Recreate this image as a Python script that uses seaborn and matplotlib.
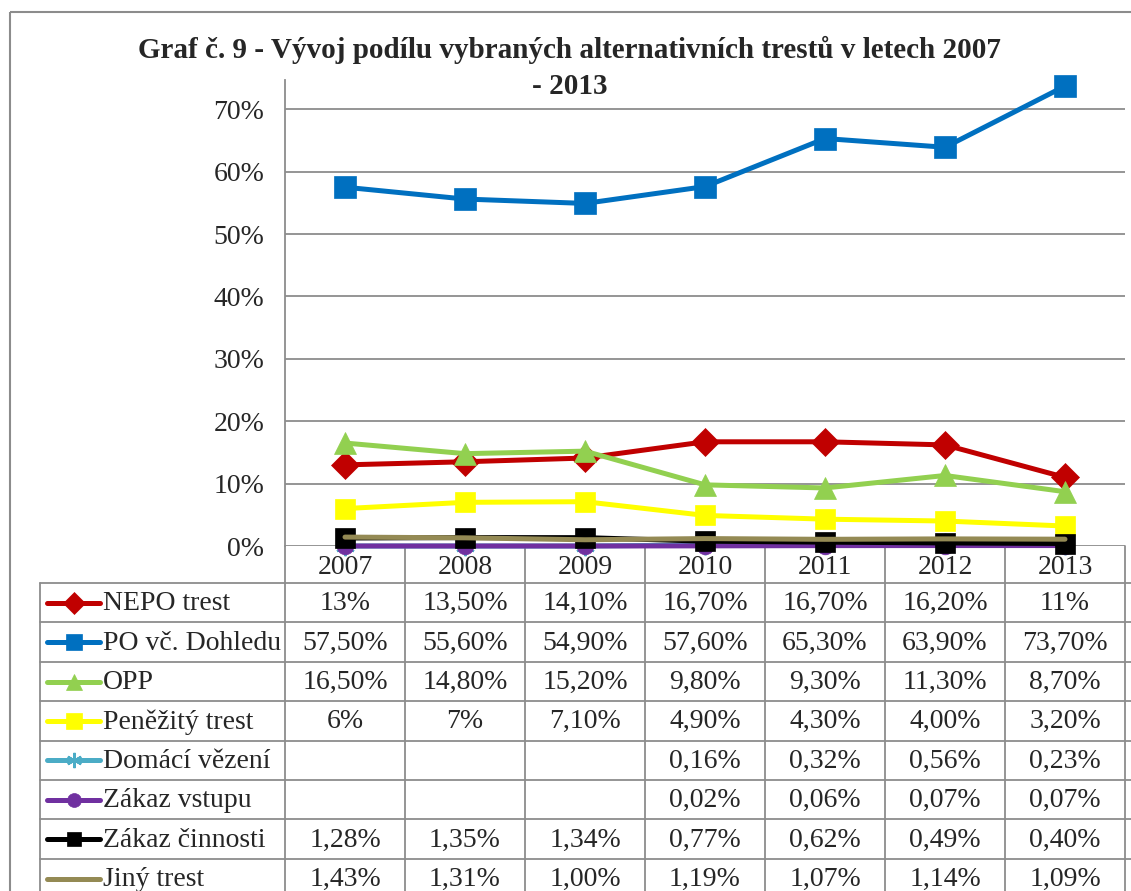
import numpy as np
import matplotlib
matplotlib.use('Agg')
import matplotlib.pyplot as plt
import seaborn as sns
import pandas as pd

sns.set_theme(style="white")
plt.rcParams['font.family'] = ['Liberation Serif', 'DejaVu Serif']

# Data as printed in the chart's data table
years = [2007, 2008, 2009, 2010, 2011, 2012, 2013]
series_names = ["NEPO trest", "PO vč. Dohledu", "OPP", "Peněžitý trest",
                "Domácí vězení", "Zákaz vstupu", "Zákaz činnosti", "Jiný trest"]
nepo = ["13%", "13,50%", "14,10%", "16,70%", "16,70%", "16,20%", "11%"]
po_dohled = ["57,50%", "55,60%", "54,90%", "57,60%", "65,30%", "63,90%", "73,70%"]
opp = ["16,50%", "14,80%", "15,20%", "9,80%", "9,30%", "11,30%", "8,70%"]
penezity = ["6%", "7%", "7,10%", "4,90%", "4,30%", "4,00%", "3,20%"]
domaci = ["", "", "", "0,16%", "0,32%", "0,56%", "0,23%"]
zakaz_vstupu = ["", "", "", "0,02%", "0,06%", "0,07%", "0,07%"]
zakaz_cinnosti = ["1,28%", "1,35%", "1,34%", "0,77%", "0,62%", "0,49%", "0,40%"]
jiny = ["1,43%", "1,31%", "1,00%", "1,19%", "1,07%", "1,14%", "1,09%"]
table_rows = [nepo, po_dohled, opp, penezity, domaci, zakaz_vstupu, zakaz_cinnosti, jiny]

colors = ["#C00000", "#0070C0", "#92D050", "#FFFF00",
          "#4BACC6", "#7030A0", "#000000", "#948A54"]
markers = ["D", "s", "^", "s", (6, 2, 0), "o", "s", None]
msizes = [14, 16, 16, 14, 14, 12, 14, 0]
key_msizes = [11, 11, 11, 11, 11, 10, 10, 0]


def to_num(s):
    # empty cells are plotted as zero (Excel "show empty cells as zero")
    if s == "":
        return 0.0
    return float(s.replace(",", ".").rstrip("%")) / 100


W, H = 1131, 891
fig = plt.figure(figsize=(W / 100, H / 100), dpi=100)

# background / table layer in pixel coordinates
tab = fig.add_axes([0, 0, 1, 1])
tab.set_xlim(0, W)
tab.set_ylim(H, 0)
tab.axis('off')

# outer chart border
tab.add_patch(plt.Rectangle((10, 12), 1140, 900, fill=False, edgecolor="#8c8c8c", linewidth=1.5))

plot_left, plot_right, plot_bottom, plot_top = 285, 1125, 546, 80
ax = fig.add_axes([plot_left / W, 1 - plot_bottom / H,
                   (plot_right - plot_left) / W, (plot_bottom - plot_top) / H])
ax.patch.set_alpha(0)

grid_col = "#8c8c8c"
for i, (name, vals) in enumerate(zip(series_names, table_rows)):
    df = pd.DataFrame({"year": years, "share": [to_num(v) for v in vals]})
    sns.lineplot(data=df, x="year", y="share", ax=ax, color=colors[i],
                 linewidth=3.6, marker=markers[i], markersize=msizes[i],
                 markeredgecolor=colors[i], markeredgewidth=1.5 if i == 4 else 0.5,
                 zorder=3 + i, clip_on=False)

ax.set_xlim(years[0] - 0.5, years[-1] + 0.5)
ax.set_ylim(0, (plot_bottom - plot_top) / 624.0)
ax.set_yticks(np.arange(0, 0.71, 0.1))
ax.set_yticklabels([f"{int(round(t * 100))}%" for t in np.arange(0, 0.71, 0.1)], fontsize=20)
ax.set_xticks([])
ax.set_xlabel("")
ax.set_ylabel("")
ax.yaxis.grid(True, color=grid_col, linewidth=1.3)
ax.set_axisbelow(True)
for side in ["top", "right", "bottom"]:
    ax.spines[side].set_visible(False)
ax.spines["left"].set_color(grid_col)
ax.spines["left"].set_linewidth(1.3)
ax.tick_params(axis='y', length=5, color=grid_col, pad=10)

# title
fig.text(570 / W, 1 - 50 / H, "Graf č. 9 - Vývoj podílu vybraných alternativních trestů v letech 2007",
         ha="center", va="center", fontsize=21, fontweight="bold")
fig.text(570 / W, 1 - 86 / H, "- 2013", ha="center", va="center", fontsize=21, fontweight="bold")

# data table
col_w = (plot_right - plot_left) / len(years)
row_h = 39.4
table_top = 583
table_left = 40
n_rows = len(series_names)
for k in range(n_rows + 1):
    y = table_top + k * row_h
    tab.plot([table_left, W], [y, y], color=grid_col, linewidth=1.3)
tab.plot([table_left, table_left], [table_top, H], color=grid_col, linewidth=1.3)
for j in range(len(years) + 1):
    x = plot_left + j * col_w
    tab.plot([x, x], [plot_bottom, H], color=grid_col, linewidth=1.3)

for j, yr in enumerate(years):
    tab.text(plot_left + (j + 0.5) * col_w, (plot_bottom + table_top) / 2 + 3, str(yr),
             ha="center", va="center", fontsize=20)

for i, (name, vals) in enumerate(zip(series_names, table_rows)):
    yc = table_top + (i + 0.5) * row_h
    tab.plot([47, 100], [yc, yc], color=colors[i], linewidth=3.6, solid_capstyle="round")
    if markers[i] is not None:
        tab.plot([73.5], [yc], linestyle="none", marker=markers[i], markersize=key_msizes[i],
                 color=colors[i], markeredgecolor=colors[i],
                 markeredgewidth=1.5 if i == 4 else 0.5)
    tab.text(103, yc + 1, name, ha="left", va="center", fontsize=20)
    for j, v in enumerate(vals):
        tab.text(plot_left + (j + 0.5) * col_w, yc + 1, v, ha="center", va="center", fontsize=20)

fig.savefig("out.png", dpi=100)
